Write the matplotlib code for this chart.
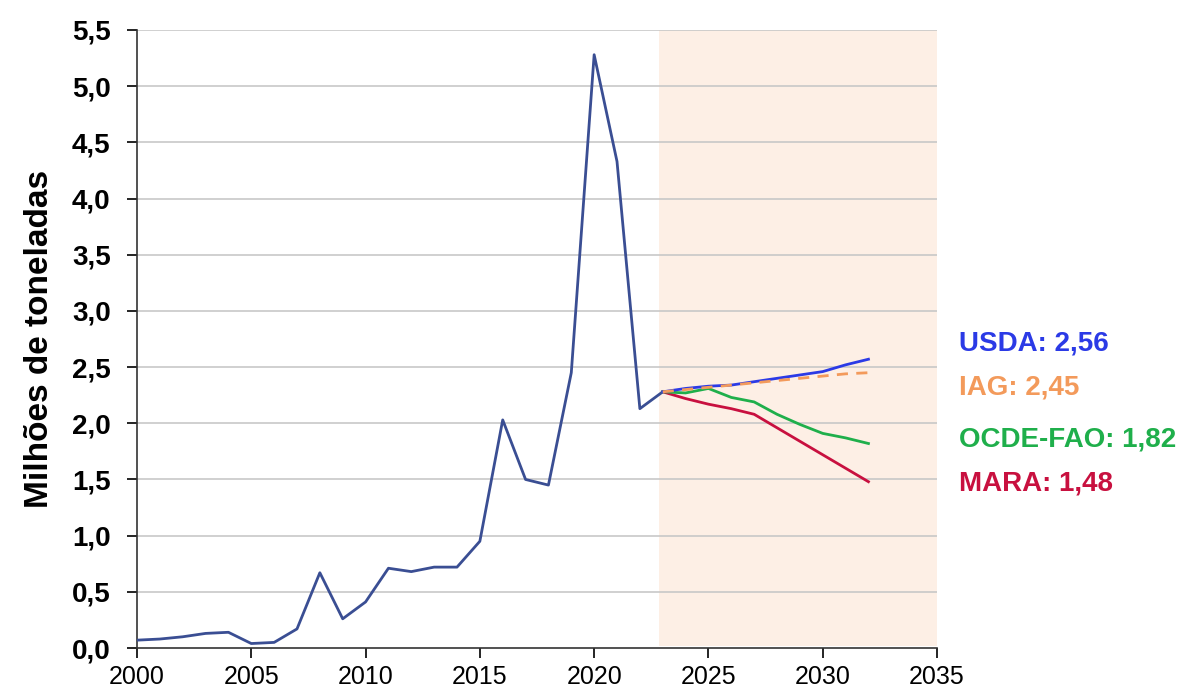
import matplotlib
matplotlib.use("Agg")
import matplotlib.pyplot as plt
from matplotlib.ticker import FuncFormatter

plt.rcParams['font.family'] = ['Liberation Sans', 'DejaVu Sans']

hist_years = list(range(2000, 2024))
hist_vals = [0.07, 0.08, 0.10, 0.13, 0.14, 0.04, 0.05, 0.17, 0.67, 0.26,
             0.41, 0.71, 0.68, 0.72, 0.72, 0.95, 2.03, 1.50, 1.45, 2.45,
             5.28, 4.33, 2.13, 2.28]

proj_years = list(range(2023, 2033))
usda = [2.28, 2.31, 2.33, 2.34, 2.37, 2.40, 2.43, 2.46, 2.52, 2.57]
iag = [2.28, 2.30, 2.32, 2.34, 2.36, 2.38, 2.40, 2.42, 2.44, 2.45]
ocde = [2.28, 2.27, 2.31, 2.23, 2.19, 2.08, 1.99, 1.91, 1.87, 1.82]
mara = [2.28, 2.22, 2.17, 2.13, 2.08, 1.96, 1.84, 1.72, 1.60, 1.48]

labels = ["USDA: 2,56", "IAG: 2,45", "OCDE-FAO: 1,82", "MARA: 1,48"]
label_y = [2.71, 2.32, 1.86, 1.46]

c_hist = "#3A4E93"
c_usda = "#2B3AE6"
c_iag = "#F39A5B"
c_ocde = "#1FAF4B"
c_mara = "#C8103F"

fig = plt.figure(figsize=(11.84, 6.91), dpi=100)
ax = fig.add_axes([0.1157, 0.0622, 0.6757, 0.8944])

ax.axvspan(2022.85, 2035, ymin=0.003, ymax=1, color="#FDEFE5", zorder=0, lw=0)
for yv in [0.5 * i for i in range(1, 12)]:
    ax.axhline(yv, color="#C8C8C8", lw=1.2, zorder=1)

ax.plot(hist_years, hist_vals, color=c_hist, lw=2, zorder=3)
ax.plot(proj_years, mara, color=c_mara, lw=2, zorder=3)
ax.plot(proj_years, ocde, color=c_ocde, lw=2, zorder=3)
ax.plot(proj_years, usda, color=c_usda, lw=2, zorder=4)
ax.plot(proj_years, iag, color=c_iag, lw=2, ls=(0, (4, 3)), zorder=5)

for txt, yv, col in zip(labels, label_y, [c_usda, c_iag, c_ocde, c_mara]):
    ax.text(2035.95, yv, txt, color=col, fontsize=20, fontweight='bold',
            va='center', ha='left', clip_on=False)

ax.set_xlim(2000, 2035)
ax.set_ylim(0, 5.5)
ax.set_xticks(range(2000, 2036, 5))
ax.set_yticks([0.5 * i for i in range(12)])
ax.yaxis.set_major_formatter(FuncFormatter(lambda v, p: f"{v:.1f}".replace('.', ',')))
ax.tick_params(axis='x', labelsize=18, direction='out', length=7, width=1.2, pad=5)
ax.tick_params(axis='y', labelsize=20, direction='out', length=7, width=1.2, pad=12)
for lab in ax.get_yticklabels():
    lab.set_fontweight('bold')

for s in ['top', 'right']:
    ax.spines[s].set_visible(False)
for s in ['left', 'bottom']:
    ax.spines[s].set_color('#333333')
    ax.spines[s].set_linewidth(1.2)

ax.set_ylabel("Milhões de toneladas", fontsize=24, fontweight='bold', labelpad=12)

fig.savefig("out.png", dpi=100)
